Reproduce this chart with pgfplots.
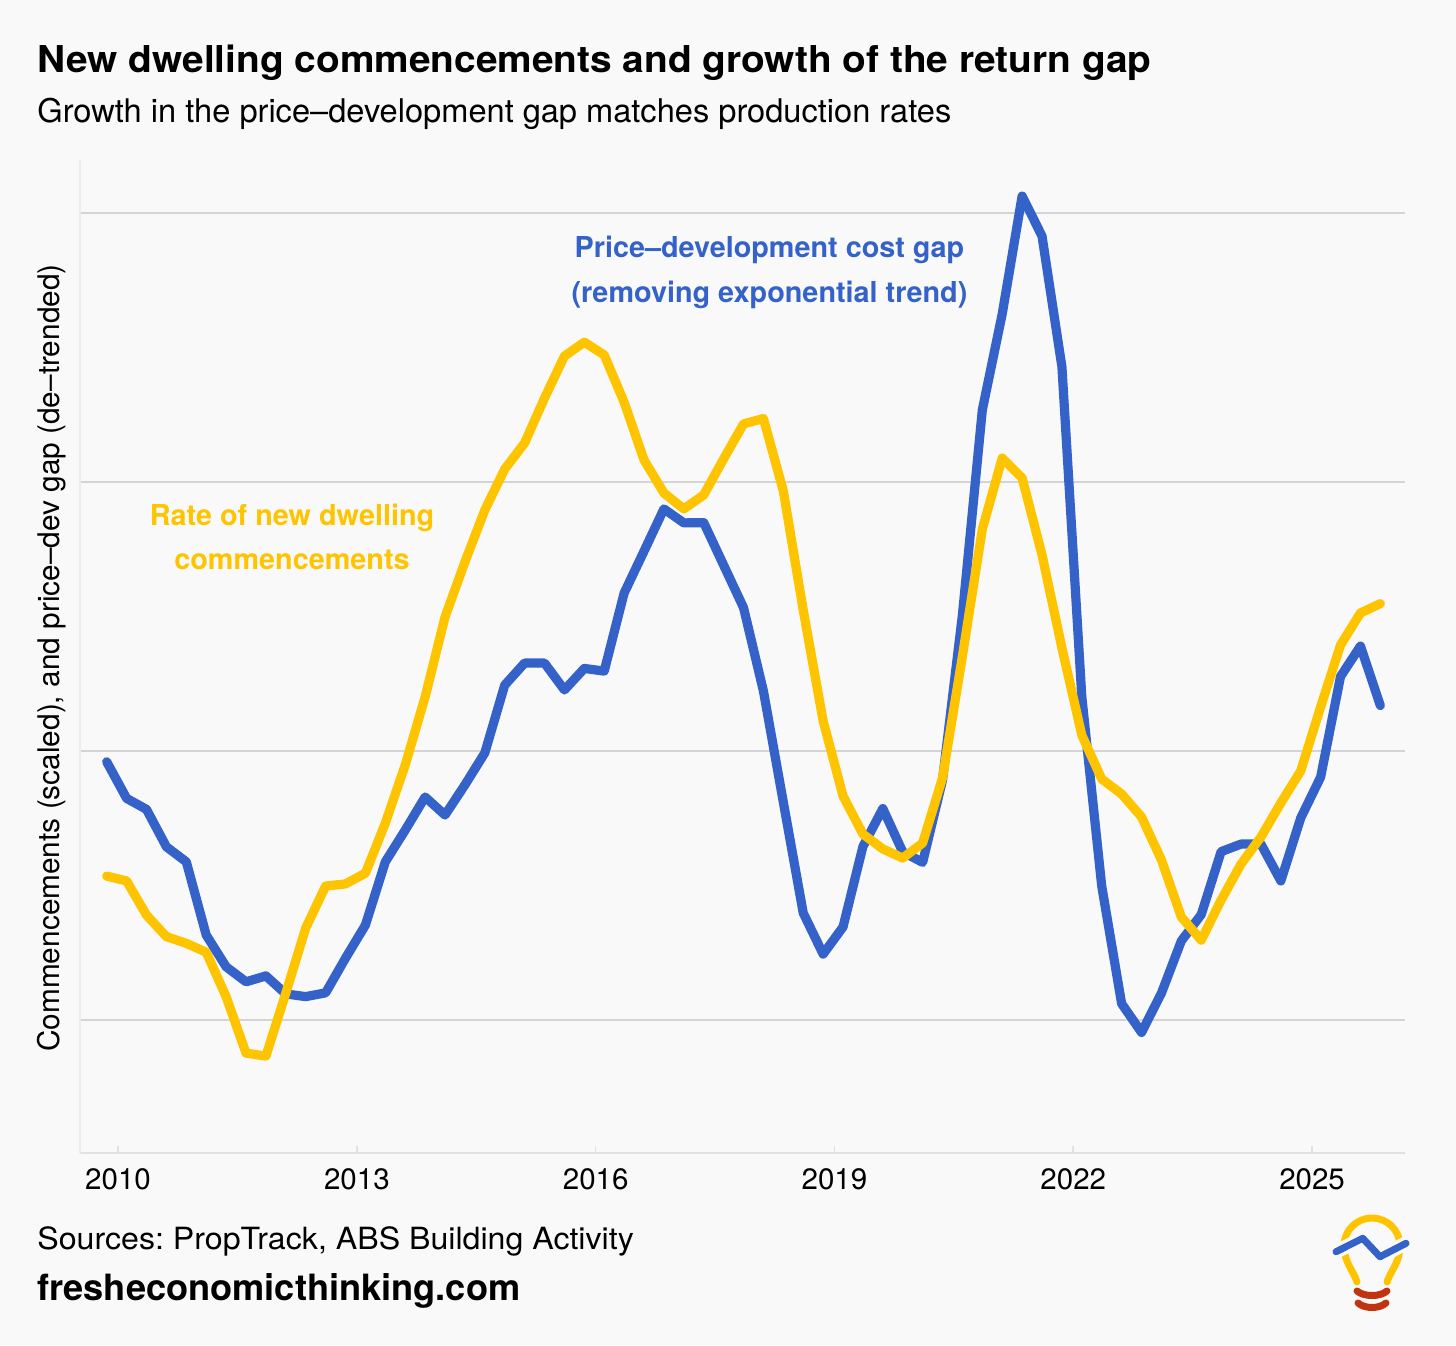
\documentclass[border=0pt]{standalone}
\usepackage{pgfplots}
\pgfplotsset{compat=1.18}
\usepackage{pgfplotstable}
\usepackage{fontspec}
\setmainfont{TeX Gyre Heros}
\newfontfamily\widefont[FakeStretch=1.05]{TeX Gyre Heros}
\frenchspacing
\definecolor{bg}{RGB}{249,249,249}
\definecolor{fblue}{RGB}{52,98,200}
\definecolor{fyellow}{RGB}{255,196,0}
\definecolor{gridc}{RGB}{212,212,212}
\definecolor{axc}{RGB}{225,225,225}
\definecolor{vlc}{RGB}{236,236,236}
\definecolor{fred}{RGB}{192,52,14}

\pgfplotstableread{
i gap comm
0 -0.040 -0.465
1 -0.176 -0.483
2 -0.217 -0.610
3 -0.356 -0.690
4 -0.412 -0.715
5 -0.684 -0.748
6 -0.802 -0.913
7 -0.858 -1.123
8 -0.836 -1.134
9 -0.903 -0.900
10 -0.913 -0.658
11 -0.899 -0.502
12 -0.770 -0.494
13 -0.647 -0.454
14 -0.412 -0.268
15 -0.294 -0.052
16 -0.171 0.201
17 -0.238 0.498
18 -0.126 0.703
19 -0.007 0.896
20 0.245 1.048
21 0.327 1.145
22 0.327 1.312
23 0.227 1.468
24 0.307 1.520
25 0.297 1.472
26 0.587 1.297
27 0.743 1.082
28 0.900 0.959
29 0.848 0.900
30 0.849 0.952
31 0.691 1.086
32 0.533 1.216
33 0.223 1.236
34 -0.190 0.967
35 -0.602 0.524
36 -0.755 0.112
37 -0.654 -0.167
38 -0.355 -0.309
39 -0.214 -0.364
40 -0.375 -0.398
41 -0.414 -0.342
42 -0.108 -0.100
43 0.506 0.353
44 1.268 0.825
45 1.625 1.089
46 2.063 1.015
47 1.914 0.729
48 1.428 0.383
49 0.201 0.059
50 -0.502 -0.104
51 -0.939 -0.160
52 -1.046 -0.245
53 -0.900 -0.405
54 -0.706 -0.617
55 -0.608 -0.703
56 -0.374 -0.554
57 -0.346 -0.420
58 -0.346 -0.320
59 -0.483 -0.193
60 -0.249 -0.074
61 -0.097 0.164
62 0.277 0.394
63 0.390 0.513
64 0.169 0.548
}\datatable

\begin{document}
\begin{tikzpicture}
\begin{scope}[x=0.5pt,y=-0.5pt]
\fill[bg] (0,0) rectangle (1456,1345);
\node[anchor=base west,inner sep=0,font=\widefont\bfseries\fontsize{18.5}{22}\selectfont] at (37,72) {New dwelling commencements and growth of the return gap};
\node[anchor=base west,inner sep=0,font=\fontsize{16.3}{19}\selectfont] at (37,122) {Growth in the price–development gap matches production rates};
\node[rotate=90,inner sep=0,font=\fontsize{14.9}{18}\selectfont] at (52,658) {Commencements (scaled), and price–dev gap (de–trended)};
\node[anchor=base west,inner sep=0,font=\widefont\fontsize{15.3}{18}\selectfont] at (37,1249) {Sources: PropTrack, ABS Building Activity};
\node[anchor=base west,inner sep=0,font=\bfseries\fontsize{18.1}{21}\selectfont] at (37,1300) {fresheconomicthinking.com};
\end{scope}

\begin{axis}[
  at={(40pt,-576.5pt)}, anchor=south west,
  scale only axis, width=662.5pt, height=496.5pt,
  xmin=-1.342, xmax=65.24, ymin=-1.4944, ymax=2.197,
  axis x line*=bottom, axis y line*=left,
  x axis line style={draw=axc,line width=0.8pt,-},
  y axis line style={draw=vlc,line width=0.8pt,-},
  xtick={0.57,12.57,24.57,36.57,48.57,60.57},
  xticklabels={2010,2013,2016,2019,2022,2025},
  tick align=inside, major tick length=3.5pt,
  x tick style={draw=axc,line width=0.8pt},
  xticklabel style={anchor=base,yshift=-18pt,font=\fontsize{14.75}{18}\selectfont},
  /pgf/number format/assume math mode=true,
  ytick={-1,0,1,2}, yticklabels={}, y tick style={draw=none},
  ymajorgrids, grid style={draw=gridc,line width=0.6pt},
  clip=false,
]
\addplot[fblue,line width=4.6pt,line join=round,line cap=round] table[x=i,y=gap]{\datatable};
\addplot[fyellow,line width=4.6pt,line join=round,line cap=round] table[x=i,y=comm]{\datatable};
\end{axis}

\begin{scope}[x=0.5pt,y=-0.5pt]
\node[align=center,inner sep=0,anchor=base,font=\bfseries\fontsize{14.4}{22.5}\selectfont,text=fblue] at (769.5,302) {Price–development cost gap\\(removing exponential trend)};
\node[align=center,inner sep=0,anchor=base,font=\bfseries\fontsize{14.4}{22}\selectfont,text=fyellow] at (292,569) {Rate of new dwelling\\commencements};
% logo
\draw[fyellow,line width=3.5pt,line cap=round] (1357,1282) .. controls (1353,1270) and (1344,1262) .. (1344,1246) arc[start angle=180,end angle=360,radius=28] .. controls (1400,1262) and (1391,1270) .. (1387,1282);
\draw[bg,line width=7pt] (1336,1251.7) -- (1362.7,1238.3) -- (1380,1256.7) -- (1406,1243.3);
\draw[fblue,line width=3.5pt,line cap=round,line join=round] (1336,1251.7) -- (1362.7,1238.3) -- (1380,1256.7) -- (1406,1243.3);
\draw[fred,line width=3.5pt,line cap=round] (1357,1291) .. controls (1364,1297) and (1380,1297) .. (1387,1291);
\draw[fred,line width=3.5pt,line cap=round] (1358,1303) .. controls (1365,1309) and (1379,1309) .. (1386,1303);
\end{scope}
\end{tikzpicture}
\end{document}
